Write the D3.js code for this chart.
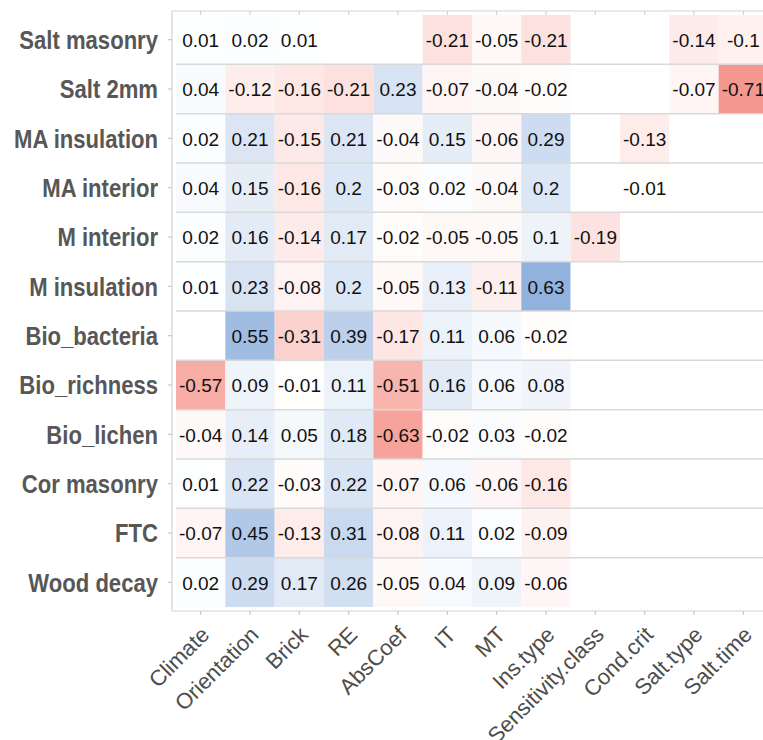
<!DOCTYPE html>
<html>
<head>
<meta charset="utf-8">
<script src="https://cdn.jsdelivr.net/npm/d3@7"></script>
<style>
  html, body { margin: 0; padding: 0; background: #ffffff; }
  svg { display: block; }
</style>
</head>
<body>
<svg id="chart" width="763" height="740"></svg>
<script>
const columns = ["Climate", "Orientation", "Brick", "RE", "AbsCoef", "IT", "MT", "Ins.type", "Sensitivity.class", "Cond.crit", "Salt.type", "Salt.time"];
const rows = ["Salt masonry", "Salt 2mm", "MA insulation", "MA interior", "M interior", "M insulation", "Bio_bacteria", "Bio_richness", "Bio_lichen", "Cor masonry", "FTC", "Wood decay"];

const saltMasonry  = [0.01, 0.02, 0.01, null, null, -0.21, -0.05, -0.21, null, null, -0.14, -0.1];
const salt2mm      = [0.04, -0.12, -0.16, -0.21, 0.23, -0.07, -0.04, -0.02, null, null, -0.07, -0.71];
const maInsulation = [0.02, 0.21, -0.15, 0.21, -0.04, 0.15, -0.06, 0.29, null, -0.13, null, null];
const maInterior   = [0.04, 0.15, -0.16, 0.2, -0.03, 0.02, -0.04, 0.2, null, -0.01, null, null];
const mInterior    = [0.02, 0.16, -0.14, 0.17, -0.02, -0.05, -0.05, 0.1, -0.19, null, null, null];
const mInsulation  = [0.01, 0.23, -0.08, 0.2, -0.05, 0.13, -0.11, 0.63, null, null, null, null];
const bioBacteria  = [null, 0.55, -0.31, 0.39, -0.17, 0.11, 0.06, -0.02, null, null, null, null];
const bioRichness  = [-0.57, 0.09, -0.01, 0.11, -0.51, 0.16, 0.06, 0.08, null, null, null, null];
const bioLichen    = [-0.04, 0.14, 0.05, 0.18, -0.63, -0.02, 0.03, -0.02, null, null, null, null];
const corMasonry   = [0.01, 0.22, -0.03, 0.22, -0.07, 0.06, -0.06, -0.16, null, null, null, null];
const ftc          = [-0.07, 0.45, -0.13, 0.31, -0.08, 0.11, 0.02, -0.09, null, null, null, null];
const woodDecay    = [0.02, 0.29, 0.17, 0.26, -0.05, 0.04, 0.09, -0.06, null, null, null, null];

const rowValues = [saltMasonry, salt2mm, maInsulation, maInterior, mInterior, mInsulation,
                   bioBacteria, bioRichness, bioLichen, corMasonry, ftc, woodDecay];

const cells = [];
rows.forEach((r, i) => {
  columns.forEach((c, j) => {
    cells.push({ row: r, col: c, value: rowValues[i][j] });
  });
});

const svg = d3.select("#chart");

const panelLeft = 172, panelTop = 11, panelBottom = 611;
const cellLeft = 176, cellTop = 15, cellBottom = 607;
const cellW = (cellBottom - cellTop) / rows.length;

const x = d3.scaleBand().domain(columns).range([cellLeft, cellLeft + cellW * columns.length]).padding(0);
const y = d3.scaleBand().domain(rows).range([cellTop, cellBottom]).padding(0);

const color = d3.scaleLinear()
  .domain([-1, 0, 1])
  .range(["#f16e61", "#ffffff", "#5285cb"])
  .interpolate(d3.interpolateRgb)
  .clamp(true);

// tiles
svg.append("g").selectAll("rect")
  .data(cells)
  .join("rect")
  .attr("x", d => x(d.col))
  .attr("y", d => y(d.row))
  .attr("width", x.bandwidth())
  .attr("height", y.bandwidth())
  .attr("fill", d => d.value == null ? "#ffffff" : color(d.value));

// horizontal separators between rows
svg.append("g").selectAll("line")
  .data(rows.slice(1))
  .join("line")
  .attr("x1", cellLeft)
  .attr("x2", 763)
  .attr("y1", d => y(d))
  .attr("y2", d => y(d))
  .attr("stroke", "#d9d9d9")
  .attr("stroke-width", 1.5);

// panel border lines
const border = svg.append("g").attr("stroke", "#d3d3d3").attr("stroke-width", 1.2).attr("fill", "none");
border.append("line").attr("x1", panelLeft).attr("x2", panelLeft).attr("y1", panelTop).attr("y2", panelBottom);
border.append("line").attr("x1", panelLeft).attr("x2", 763).attr("y1", panelBottom).attr("y2", panelBottom);
border.append("line").attr("x1", panelLeft).attr("x2", 763).attr("y1", panelTop).attr("y2", panelTop);

// top small ticks
svg.append("g").selectAll("line")
  .data(columns)
  .join("line")
  .attr("x1", d => x(d) + x.bandwidth() / 2)
  .attr("x2", d => x(d) + x.bandwidth() / 2)
  .attr("y1", panelTop)
  .attr("y2", panelTop + 4)
  .attr("stroke", "#d3d3d3")
  .attr("stroke-width", 1.2);

// cell labels
svg.append("g").selectAll("text")
  .data(cells.filter(d => d.value != null))
  .join("text")
  .attr("x", d => x(d.col) + x.bandwidth() / 2)
  .attr("y", d => y(d.row) + y.bandwidth() / 2)
  .attr("dy", "0.38em")
  .attr("text-anchor", "middle")
  .attr("font-family", "'Liberation Sans', Arial, sans-serif")
  .attr("font-size", 19)
  .attr("fill", "#111111")
  .text(d => String(d.value));

// left axis
const yAxis = d3.axisLeft(y).tickSize(4).tickPadding(10);
const gy = svg.append("g").attr("transform", `translate(${panelLeft},0)`).call(yAxis);
gy.select(".domain").remove();
gy.selectAll(".tick line").attr("stroke", "#c8c8c8").attr("stroke-width", 1.2);
gy.selectAll(".tick text")
  .attr("font-family", "'Liberation Sans', Arial, sans-serif")
  .attr("font-weight", "bold")
  .attr("font-size", 26)
  .attr("fill", "#575757")
  .attr("x", 0)
  .attr("dy", "0.36em")
  .attr("text-anchor", "end")
  .attr("transform", "translate(-14,0) scale(0.85,1)");

// bottom axis
const xAxis = d3.axisBottom(x).tickSize(4).tickPadding(0);
const gx = svg.append("g").attr("transform", `translate(0,${panelBottom})`).call(xAxis);
gx.select(".domain").remove();
gx.selectAll(".tick line").attr("stroke", "#c8c8c8").attr("stroke-width", 1.2);
gx.selectAll(".tick text")
  .attr("font-family", "'Liberation Sans', Arial, sans-serif")
  .attr("font-size", 22)
  .attr("fill", "#4d4d4d")
  .attr("text-anchor", "end")
  .attr("x", 0)
  .attr("y", 0)
  .attr("dy", 0)
  .attr("transform", "translate(10,25) rotate(-45)");
</script>
</body>
</html>
